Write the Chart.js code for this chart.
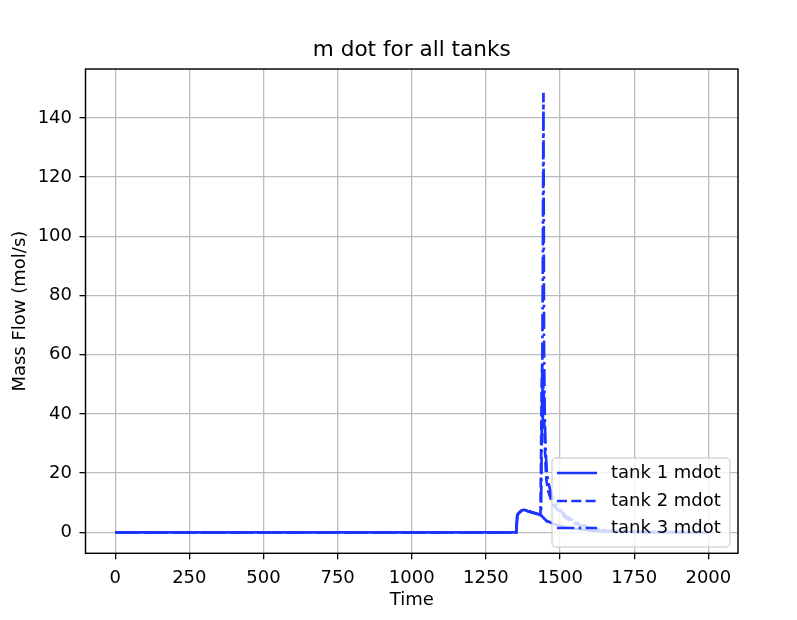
<!DOCTYPE html>
<html>
<head>
<meta charset="utf-8">
<script src="https://cdn.jsdelivr.net/npm/chart.js@4/dist/chart.umd.min.js"></script>
<style>
html,body{margin:0;padding:0;background:#fff;}
#wrap{width:797px;height:620px;position:relative;}
</style>
</head>
<body>
<div id="wrap"><canvas id="c" width="797" height="620"></canvas></div>
<script>
// ---- data ----
const time = [0, 1352, 1356, 1362, 1370, 1378, 1390, 1400, 1410, 1420, 1430, 1434, 1436, 1438, 1440, 1442, 1444, 1446, 1448, 1450, 1452, 1455, 1460, 1470, 1480, 1500, 1520, 1550, 1600, 1650, 1700, 1800, 2000];
const tank1 = [0, 0, 5.8, 6.6, 7.3, 7.6, 7.2, 6.9, 6.6, 6.3, 6.0, 5.8, 5.7, 5.5, 5.3, 5.1, 4.9, 4.7, 4.5, 4.3, 4.1, 3.9, 3.6, 3.2, 2.8, 2.2, 1.7, 1.2, 0.6, 0.3, 0.15, 0.05, 0];
const tank2 = [0, 0, 5.8, 6.6, 7.3, 7.6, 7.2, 6.9, 6.6, 6.3, 6.0, 5.8, 25, 48, 57, 35, 53, 42, 32, 26, 21, 17, 14, 11, 9, 6.5, 4.8, 3.0, 1.3, 0.6, 0.3, 0.1, 0];
const tank3 = [0, 0, 5.8, 6.6, 7.3, 7.6, 7.2, 6.9, 6.6, 6.3, 6.0, 5.8, 5.7, 30, 52, 90, 148.5, 62, 42, 33, 27, 21, 17, 13, 10.5, 7.5, 5.5, 3.6, 1.5, 0.7, 0.3, 0.1, 0];
const seriesLabels = ["tank 1 mdot", "tank 2 mdot", "tank 3 mdot"];
const xTicks = [0, 250, 500, 750, 1000, 1250, 1500, 1750, 2000];
const yTicks = [0, 20, 40, 60, 80, 100, 120, 140];

const BLUE = 'rgb(28,52,255)';
const FONT = "'DejaVu Sans', sans-serif";
const LW = 2.7;
const dashes = [[], [10, 4.3], [17.3, 4.3, 2.7, 4.3]];

function pts(v){ return time.map((t,i)=>({x:t, y:v[i]})); }

const datasets = [tank1, tank2, tank3].map((v, i) => ({
  label: seriesLabels[i],
  data: pts(v),
  borderColor: BLUE,
  backgroundColor: BLUE,
  borderWidth: LW,
  borderDash: dashes[i],
  pointRadius: 0,
  fill: false,
  tension: 0
}));

const framePlugin = {
  id: 'frame',
  afterDatasetsDraw(chart){
    const {ctx, chartArea:a} = chart;
    ctx.save();
    // legend
    const lx = 552, ly = 458, lw = 178, lh = 89, r = 4;
    ctx.beginPath();
    ctx.moveTo(lx + r, ly);
    ctx.lineTo(lx + lw - r, ly); ctx.arcTo(lx + lw, ly, lx + lw, ly + r, r);
    ctx.lineTo(lx + lw, ly + lh - r); ctx.arcTo(lx + lw, ly + lh, lx + lw - r, ly + lh, r);
    ctx.lineTo(lx + r, ly + lh); ctx.arcTo(lx, ly + lh, lx, ly + lh - r, r);
    ctx.lineTo(lx, ly + r); ctx.arcTo(lx, ly, lx + r, ly, r);
    ctx.closePath();
    ctx.fillStyle = 'rgba(255,255,255,0.8)';
    ctx.fill();
    ctx.strokeStyle = 'rgba(204,204,204,0.8)';
    ctx.lineWidth = 1.4;
    ctx.stroke();
    const rows = [473, 501, 528];
    chart.data.datasets.forEach((ds, i) => {
      ctx.beginPath();
      ctx.setLineDash(ds.borderDash);
      ctx.strokeStyle = ds.borderColor;
      ctx.lineWidth = LW;
      ctx.moveTo(557, rows[i]);
      ctx.lineTo(597, rows[i]);
      ctx.stroke();
      ctx.setLineDash([]);
      ctx.fillStyle = '#000';
      ctx.font = '18px ' + FONT;
      ctx.textBaseline = 'middle';
      ctx.textAlign = 'left';
      ctx.fillText(ds.label, 611, rows[i]);
    });
    // axes box
    ctx.strokeStyle = '#000';
    ctx.lineWidth = 1.44;
    ctx.strokeRect(a.left, a.top, a.right - a.left, a.bottom - a.top);
    ctx.restore();
  }
};

new Chart(document.getElementById('c'), {
  type: 'line',
  data: { datasets },
  plugins: [framePlugin],
  options: {
    responsive: false,
    animation: false,
    layout: { padding: { left: 0, right: 59, top: 0, bottom: 0 } },
    plugins: {
      legend: { display: false },
      tooltip: { enabled: false },
      title: {
        display: true,
        text: 'm dot for all tanks',
        fullSize: false,
        color: '#000',
        font: { family: FONT, size: 21.6, weight: 'normal', lineHeight: 1.2 },
        padding: { top: 37.5, bottom: 5.6 }
      }
    },
    scales: {
      x: {
        type: 'linear',
        min: -100, max: 2100,
        afterBuildTicks(s){ s.ticks = xTicks.map(v => ({value: v})); },
        afterFit(s){ s.height = 66.7; },
        grid: { color: '#bdbdbd', lineWidth: 1.3, tickColor: '#000', tickLength: 6, drawTicks: true },
        border: { display: false },
        ticks: { color: '#000', font: { family: FONT, size: 18 }, padding: 8.4, maxRotation: 0, autoSkip: false, callback: v => String(v) },
        title: { display: true, text: 'Time', color: '#000', font: { family: FONT, size: 18, lineHeight: 1.2 }, padding: { top: 0, bottom: 9.2 } }
      },
      y: {
        type: 'linear',
        min: -7.1, max: 156.5,
        afterBuildTicks(s){ s.ticks = yTicks.map(v => ({value: v})); },
        afterFit(s){ s.width = 85.5; },
        grid: { color: '#bdbdbd', lineWidth: 1.3, tickColor: '#000', tickLength: 6, drawTicks: true },
        border: { display: false },
        ticks: { color: '#000', font: { family: FONT, size: 18 }, padding: 7.5, autoSkip: false, callback: v => String(v) },
        title: { display: true, text: 'Mass Flow (mol/s)', color: '#000', font: { family: FONT, size: 18, lineHeight: 1.2 }, padding: { top: 10, bottom: 0 } }
      }
    }
  }
});
</script>
</body>
</html>
